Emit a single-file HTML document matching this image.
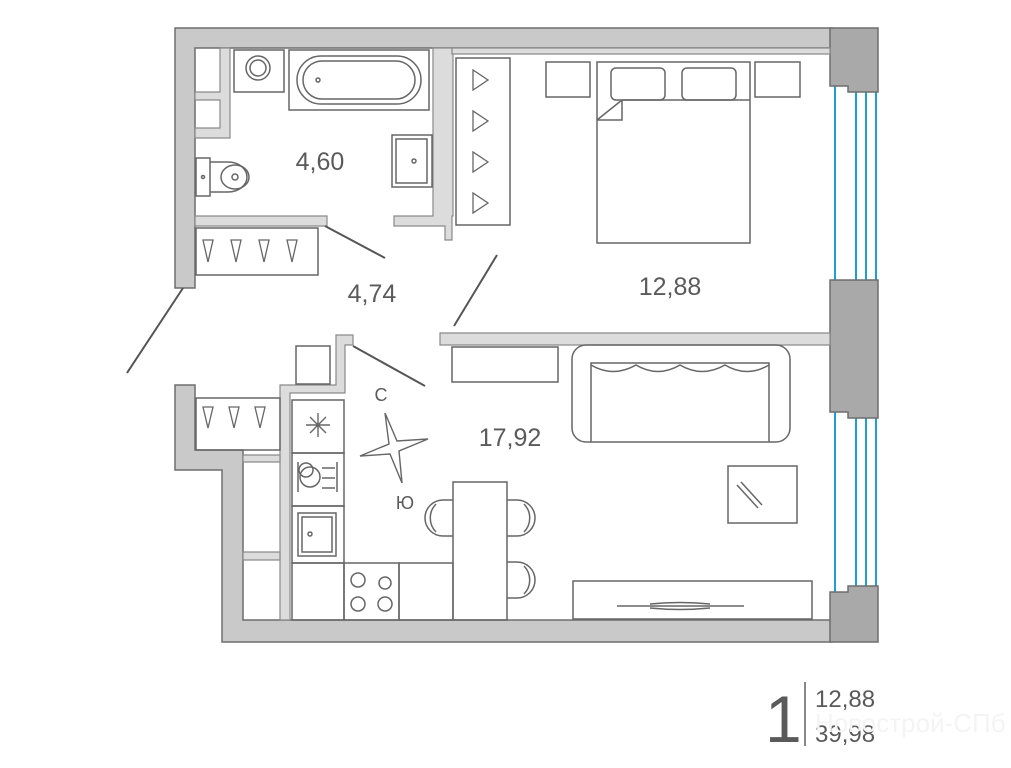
<!DOCTYPE html>
<html><head><meta charset="utf-8"><style>
html,body{margin:0;padding:0;background:#fff;width:1011px;height:768px;overflow:hidden}
svg{display:block}
text{font-family:"Liberation Sans","DejaVu Sans",sans-serif;fill:#5a5a5a}
</style></head><body>
<svg width="1011" height="768" viewBox="0 0 1011 768" xmlns="http://www.w3.org/2000/svg">
<g stroke="#6e6e6e" stroke-width="1.5" fill="#c9c9c9">
<path d="M175 28 H832 V48 H195 V288 H175 Z"/>
<path d="M175 385 H195 V450 H243 V620 H832 V642 H222 V470 H175 Z"/>
</g>
<g stroke="#1f9fd0" stroke-width="2">
<line x1="835" y1="80" x2="835" y2="290"/><line x1="856" y1="80" x2="856" y2="290"/><line x1="866" y1="80" x2="866" y2="290"/><line x1="876" y1="80" x2="876" y2="290"/>
<line x1="835" y1="410" x2="835" y2="596"/><line x1="856" y1="410" x2="856" y2="596"/><line x1="866" y1="410" x2="866" y2="596"/><line x1="876" y1="410" x2="876" y2="596"/>
</g>
<g stroke="#6e6e6e" stroke-width="1.5" fill="#a9a9a9">
<path d="M830 28 H878 V92 H848 V86 H830 Z"/>
<path d="M830 280 H878 V418 H848 V412 H830 Z"/>
<path d="M830 592 H848 V586 H878 V642 H830 Z"/>
</g>
<g stroke="#8a8a8a" stroke-width="1.2" fill="#dcdcdc">
<path d="M195 216 H327 V226 H195 Z"/>
<path d="M433 48 H453 V216 H452 V240 H445 V226 H394 V216 H433 Z"/>
<path d="M220 48 H230 V138 H195 V128 H220 V100 H195 V92 H220 Z"/>
<path d="M452 48 H830 V54 H452 Z"/>
<path d="M440 333 H830 V345 H440 Z"/>
<path d="M336 335 H353 V345 H345 V393 H290 V620 H280 V385 H336 Z"/>
<path d="M243 455 H280 V462 H243 Z"/>
<path d="M243 552 H280 V560 H243 Z"/>
</g>
<g stroke="#555" stroke-width="2">
<line x1="127" y1="373" x2="183" y2="288"/>
<line x1="325" y1="226" x2="385" y2="258"/>
<line x1="454" y1="326" x2="497" y2="255"/>
<line x1="353" y1="346" x2="425" y2="386"/>
</g>
<g fill="none" stroke="#666" stroke-width="1.5">
<rect x="234" y="50" width="50" height="42"/>
<circle cx="258" cy="68" r="12"/><circle cx="258" cy="68" r="8"/>
<rect x="289" y="50" width="140" height="60"/>
<rect x="297" y="56" width="124" height="48" rx="24"/>
<rect x="303" y="61" width="112" height="38" rx="19"/>
<circle cx="318" cy="80" r="2"/>
<rect x="392" y="135" width="40" height="52"/>
<rect x="396" y="139" width="31" height="44"/>
<circle cx="414" cy="161" r="2"/>
<rect x="196" y="158" width="14" height="38"/>
<path d="M210 162 H228 A19 15 0 0 1 228 192 H210"/>
<ellipse cx="235" cy="177" rx="14" ry="12"/><circle cx="235" cy="177" r="3"/><circle cx="203" cy="177" r="1.5"/>
<rect x="456" y="58" width="54" height="167"/>
<rect x="196" y="228" width="122" height="47"/>
<rect x="196" y="398" width="84" height="52"/>
<rect x="546" y="62" width="44" height="35"/>
<rect x="755" y="62" width="45" height="35"/>
<rect x="597" y="62" width="153" height="181"/>
<rect x="611" y="68" width="54" height="32" rx="5"/>
<rect x="682" y="68" width="54" height="32" rx="5"/>
<path d="M622 100 H750 M622 100 V120 H597 M597 120 L622 100"/>
<rect x="452" y="347" width="106" height="35"/>
<rect x="572" y="345" width="218" height="97" rx="14"/>
<path d="M591 442 V363 H769 V442"/>
<path d="M591 365 Q613 378 636 365 Q658 378 680 365 Q702 378 725 365 Q747 378 769 365"/>
<rect x="728" y="466" width="69" height="57"/>
<path d="M737 485 L758 508 M741 482 L762 505"/>
<rect x="573" y="581" width="239" height="38"/>
<path d="M617 606 H744 M650 604 Q680 601 710 604 M650 608 Q680 611 710 608"/>
<rect x="296" y="346" width="34" height="38"/>
<rect x="292" y="400" width="52" height="53"/>
<rect x="292" y="453" width="52" height="53"/>
<rect x="292" y="506" width="52" height="57"/>
<rect x="292" y="563" width="52" height="57"/>
<rect x="344" y="563" width="55" height="57"/>
<rect x="399" y="563" width="54" height="57"/>
<rect x="453" y="482" width="54" height="138"/>
<rect x="298" y="513" width="38" height="43"/><rect x="302" y="517" width="30" height="35"/><circle cx="310" cy="534" r="2"/>
<circle cx="306" cy="470" r="7"/><circle cx="310" cy="477" r="10"/>
<path d="M298 462 V492 M337 462 V492 M322 468 H335 M322 478 H335 M322 488 H335"/>
<circle cx="358" cy="580" r="7"/><circle cx="385" cy="583" r="6"/><circle cx="358" cy="604" r="7"/><circle cx="385" cy="604" r="7"/>
<path d="M453 500 H443 A17 17 0 0 0 443 536 H453"/>
<path d="M436 504 A20 20 0 0 0 436 532"/>
<path d="M507 500 H517 A17 17 0 0 1 517 536 H507"/>
<path d="M524 504 A20 20 0 0 1 524 532"/>
<path d="M507 562 H517 A17 17 0 0 1 517 598 H507"/>
<path d="M524 566 A20 20 0 0 1 524 594"/>
</g>
<g fill="none" stroke="#666" stroke-width="1.3">
<path d="M473 70 V90 L488 80 Z"/><path d="M473 111 V131 L488 121 Z"/><path d="M473 152 V172 L488 162 Z"/><path d="M473 193 V213 L488 203 Z"/>
<path d="M203 240 H213 L208 262 Z"/><path d="M231 240 H241 L236 262 Z"/><path d="M259 240 H269 L264 262 Z"/><path d="M287 240 H297 L292 262 Z"/>
<path d="M203 407 H213 L208 428 Z"/><path d="M229 407 H239 L234 428 Z"/><path d="M255 407 H265 L260 428 Z"/>
</g>
<g stroke="#666" stroke-width="1.4" fill="none">
<path d="M306 425 H330 M318 413 V437 M310 417 L326 433 M326 417 L310 433"/>
<path d="M385 413 L397 441 L428 439 L399 451 L402 483 L390 454 L360 456 L389 444 Z"/>
</g>
<text x="320" y="170" font-size="25" text-anchor="middle">4,60</text>
<text x="372" y="302" font-size="25" text-anchor="middle">4,74</text>
<text x="670" y="295" font-size="25" text-anchor="middle">12,88</text>
<text x="510" y="446" font-size="25" text-anchor="middle">17,92</text>
<text x="381" y="401" font-size="18" text-anchor="middle">С</text>
<text x="405" y="509" font-size="18" text-anchor="middle">Ю</text>
<text x="765" y="742" font-size="66" fill="#666">1</text>
<line x1="805" y1="682" x2="805" y2="746" stroke="#888" stroke-width="2"/>
<text x="815" y="707" font-size="24">12,88</text>
<text x="815" y="742" font-size="24">39,98</text>
<text x="815" y="732" font-size="26" style="fill:#f4f4f4">Новострой-СПб</text>
</svg>
</body></html>
